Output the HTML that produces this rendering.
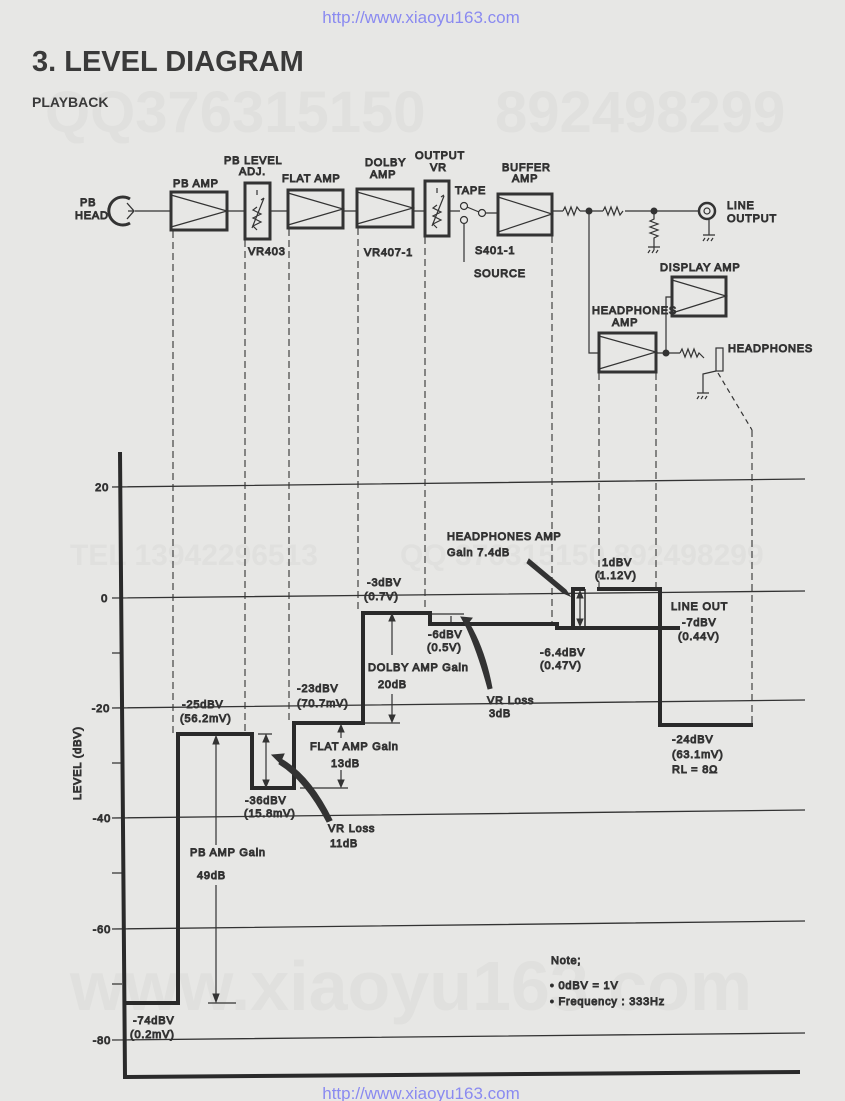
<!DOCTYPE html>
<html><head><meta charset="utf-8"><style>
html,body{margin:0;padding:0;background:#e7e7e5;}
svg{display:block;}
text{font-family:"Liberation Sans",sans-serif;fill:#2a2a2a;}
.l{font-size:11px;letter-spacing:0.8px;font-weight:normal;}
.wm{font-family:"Liberation Sans",sans-serif;font-weight:bold;fill:#e0e0de;}
</style></head><body>
<svg width="845" height="1101" viewBox="0 0 845 1101" xmlns="http://www.w3.org/2000/svg">
<rect width="845" height="1101" fill="#e7e7e5"/>
<text class="wm" x="45" y="132" font-size="58">QQ376315150</text>
<text class="wm" x="495" y="132" font-size="58">892498299</text>
<text class="wm" x="70" y="565" font-size="30">TEL 13942296513</text>
<text class="wm" x="400" y="565" font-size="30">QQ 376315150 892498299</text>
<text class="wm" x="70" y="1010" font-size="70">www.xiaoyu163.com</text>
<text x="421" y="23" text-anchor="middle" font-size="17" style="fill:#8a8af0">http://www.xiaoyu163.com</text>
<text x="421" y="1099" text-anchor="middle" font-size="17" style="fill:#8a8af0">http://www.xiaoyu163.com</text>

<text x="32" y="71" font-size="29" font-weight="bold" style="fill:#3a3a3a">3. LEVEL DIAGRAM</text>
<text x="32" y="107" font-size="14" font-weight="bold" style="fill:#3a3a3a">PLAYBACK</text>

<g stroke="#333" fill="none">
<path d="M135 211H170M227 211H244M271 211H287M343 211H356M413 211H424M449 211H460M486 213H497M552 211H563M580 211H603M625 211H700" stroke-width="1.3"/>
<path d="M130 199A14 14 0 1 0 130 223" stroke-width="3"/>
<path d="M127 203l7 8-7 8M128 211h6" stroke-width="1.3"/>
<g stroke-width="3">
<rect x="171" y="192" width="56" height="38"/>
<rect x="288" y="190" width="55" height="38"/>
<rect x="357" y="189" width="56" height="38"/>
<rect x="498" y="194" width="54" height="41"/>
<rect x="672" y="277" width="54" height="39"/>
<rect x="599" y="333" width="57" height="39"/>
<rect x="245" y="183" width="25" height="56"/>
<rect x="425" y="181" width="24" height="55"/>
</g>
<g stroke-width="1.2">
<path d="M171 195L227 211L171 227"/>
<path d="M288 193L343 209L288 225"/>
<path d="M357 192L413 208L357 224"/>
<path d="M498 197L552 214L498 232"/>
<path d="M672 280L726 296L672 313"/>
<path d="M599 336L656 352L599 369"/>
<path d="M257 230l-4-4 8-4-8-4 8-4-8-4 4-3M252 228l12-30M261 200l3-2M257 195v-5"/>
<path d="M437 228l-4-4 8-4-8-4 8-4-8-4 4-3M432 226l12-30M441 197l3-2M437 193v-5"/>
<circle cx="464" cy="206" r="3.5"/><circle cx="464" cy="220" r="3.5"/><circle cx="482" cy="213" r="3.5"/>
<path d="M467 207l12 5M464 224v38"/>
<path d="M563 211l2-4 3 8 3-8 3 8 3-8 3 4M603 211l2-4 3 8 3-8 3 8 3-8 3 8 3-4"/>
<path d="M654 211v8l-4 2 8 3-8 3 8 3-8 3 8 3-4 2v12M648 247h12M650 250l-2 3M654 250l-2 3M658 250l-2 3"/>
<circle cx="707" cy="211" r="8" stroke-width="2.5"/><circle cx="707" cy="211" r="3"/>
<path d="M709 219v16M703 235h12M705 238l-2 3M709 238l-2 3M713 238l-2 3"/>
<path d="M589 211V353H599M656 353H680M666 353V297H672"/>
<path d="M680 353l2-4 3 8 3-8 3 8 3-8 3 8 2-4 5 5"/>
<rect x="716" y="348" width="7" height="23"/>
<path d="M716 371l-13 3v19M697 393h12M699 396l-2 3M703 396l-2 3M707 396l-2 3"/>
<path d="M718 373L752 430" stroke-dasharray="5 4"/>
</g>
<g fill="#333"><circle cx="589" cy="211" r="3"/><circle cx="654" cy="211" r="3"/><circle cx="666" cy="353" r="3"/></g>

<g class="l">
<text x="80" y="206">PB</text><text x="75" y="219">HEAD</text>
<text x="173" y="187">PB AMP</text>
<text x="224" y="164">PB LEVEL</text><text x="239" y="175">ADJ.</text>
<text x="282" y="182">FLAT AMP</text>
<text x="365" y="166">DOLBY</text><text x="370" y="178">AMP</text>
<text x="415" y="159">OUTPUT</text><text x="430" y="171">VR</text>
<text x="455" y="194">TAPE</text>
<text x="502" y="171">BUFFER</text><text x="512" y="182">AMP</text>
<text x="727" y="209">LINE</text><text x="727" y="222">OUTPUT</text>
<text x="248" y="255">VR403</text>
<text x="364" y="256">VR407-1</text>
<text x="475" y="254">S401-1</text>
<text x="474" y="277">SOURCE</text>
<text x="660" y="271">DISPLAY AMP</text>
<text x="592" y="314">HEADPHONES</text><text x="612" y="326">AMP</text>
<text x="728" y="352">HEADPHONES</text>
</g>

<g stroke="#333" stroke-width="1.1" stroke-dasharray="7 4" fill="none">
<path d="M173 231V733M245 240V733M289 229V723M358 228V613M425 237V613M552 236V624M599 373V589M656 373V589M752 430V725"/>
</g>

<g stroke="#333" stroke-width="1.3" fill="none">
<path d="M112 487L805 479M112 598L805 591M112 708L805 700M112 818L805 810M112 929L805 921M112 1040L805 1033"/>
<path d="M112 653h10M112 763h10M112 873h10M112 984h10"/>
</g>
<path d="M120 452L125 1077L800 1072" stroke="#2a2a2a" stroke-width="4" fill="none"/>
<g class="l" text-anchor="end" font-size="12">
<text x="109" y="491">20</text><text x="108" y="602">0</text><text x="110" y="712">-20</text>
<text x="111" y="822">-40</text><text x="111" y="933">-60</text><text x="111" y="1044">-80</text>
</g>
<text class="l" transform="translate(81,800) rotate(-90)">LEVEL   (dBV)</text>

<path d="M125 1003H178V734H252V788H294V723H363V613H430V624H557V628H573V589H585M597 589H660V725H753M573 628H680" stroke="#2a2a2a" stroke-width="4" fill="none"/>
<path d="M585 589V628" stroke="#2a2a2a" stroke-width="1.5"/>

<g stroke="#333" stroke-width="1.2" fill="none">
<path d="M216 738V845M216 885V1000M208 1003H236"/>
<path d="M266 734V786M258 734H272"/>
<path d="M341 726V738M341 770V786M300 788H348"/>
<path d="M392 616V655M392 694V720M365 723H400"/>
<path d="M451 616V622M432 614H464"/>
<path d="M580 592V625"/>
</g>
<g fill="#333">
<path d="M216 736l-3 8h6zM216 1002l-3-8h6z"/>
<path d="M266 735l-3 7h6zM266 787l-3-7h6z"/>
<path d="M341 725l-3 7h6zM341 787l-3-7h6z"/>
<path d="M392 614l-3 7h6zM392 722l-3-7h6z"/>
<path d="M580 591l-3 7h6zM580 626l-3-7h6z"/>
<path d="M272 755l12-1-4 9z"/>
<path d="M281 759Q310 775 332 820L327 822Q305 780 279 764z"/>
<path d="M461 617l11 1-6 8z"/>
<path d="M469 623Q485 650 492 688L488 689Q478 652 466 626z"/>
<path d="M527 563L529 559L566 590L570 596L563 593z"/>
</g>

<g class="l">
<text x="447" y="540">HEADPHONES AMP</text><text x="447" y="556">Gain 7.4dB</text>
<text x="602" y="566">1dBV</text><text x="595" y="579">(1.12V)</text>
<text x="671" y="610">LINE OUT</text><text x="682" y="626">-7dBV</text><text x="678" y="640">(0.44V)</text>
<text x="540" y="656">-6.4dBV</text><text x="540" y="669">(0.47V)</text>
<text x="487" y="704">VR  Loss</text><text x="489" y="717">3dB</text>
<text x="672" y="743">-24dBV</text><text x="672" y="758">(63.1mV)</text><text x="672" y="773">RL = 8Ω</text>
<text x="367" y="586">-3dBV</text><text x="364" y="600">(0.7V)</text>
<text x="428" y="638">-6dBV</text><text x="427" y="651">(0.5V)</text>
<text x="368" y="671">DOLBY AMP Gain</text><text x="378" y="688">20dB</text>
<text x="297" y="692">-23dBV</text><text x="297" y="707">(70.7mV)</text>
<text x="182" y="708">-25dBV</text><text x="180" y="722">(56.2mV)</text>
<text x="310" y="750">FLAT AMP Gain</text><text x="331" y="767">13dB</text>
<text x="245" y="804">-36dBV</text><text x="244" y="817">(15.8mV)</text>
<text x="328" y="832">VR  Loss</text><text x="330" y="847">11dB</text>
<text x="190" y="856">PB AMP Gain</text><text x="197" y="879">49dB</text>
<text x="133" y="1024">-74dBV</text><text x="130" y="1038">(0.2mV)</text>
<text x="551" y="964">Note;</text>
<text x="550" y="989">• 0dBV = 1V</text>
<text x="550" y="1005">• Frequency : 333Hz</text>
</g>
</svg>
</body></html>
